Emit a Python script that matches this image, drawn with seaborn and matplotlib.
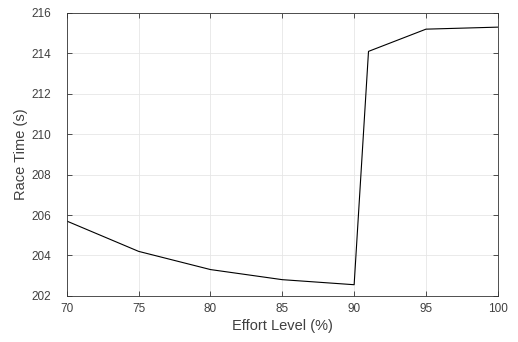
import pandas as pd
import matplotlib
matplotlib.use('Agg')
import matplotlib.pyplot as plt
import seaborn as sns

# Dữ liệu
effort_level = [70, 75, 80, 85, 90, 91, 95, 100]
race_time = [205.7, 204.2, 203.3, 202.8, 202.55, 214.1, 215.2, 215.3]
x_ticks = [70, 75, 80, 85, 90, 95, 100]
y_ticks = [202, 204, 206, 208, 210, 212, 214, 216]

sns.set_theme(style='whitegrid')
plt.rcParams['font.family'] = ['Liberation Sans', 'DejaVu Sans']

df = pd.DataFrame({'Effort': effort_level, 'Time': race_time})

fig = plt.figure(figsize=(5.18, 3.42), dpi=100)
ax = fig.add_axes([0.129, 0.135, 0.832, 0.827])
sns.lineplot(data=df, x='Effort', y='Time', color='black', linewidth=0.8, ax=ax)

ax.set_xlim(70, 100)
ax.set_ylim(202, 216)
ax.set_xticks(x_ticks)
ax.set_yticks(y_ticks)
ax.grid(True, color='#e6e6e6', linewidth=0.6)
for s in ax.spines.values():
    s.set_visible(True)
    s.set_color('#333333')
    s.set_linewidth(0.6)
ax.tick_params(direction='in', length=3.5, width=0.6, color='#333333',
               labelsize=8.5, labelcolor='#404040', top=True, right=True,
               bottom=True, left=True)
ax.tick_params(axis='x', pad=5)
ax.tick_params(axis='y', pad=11)
ax.set_xlabel('Effort Level (%)', fontsize=10.5, color='#404040', labelpad=3)
ax.set_ylabel('Race Time (s)', fontsize=10.5, color='#404040', labelpad=3)

fig.savefig('out.png', dpi=100)
